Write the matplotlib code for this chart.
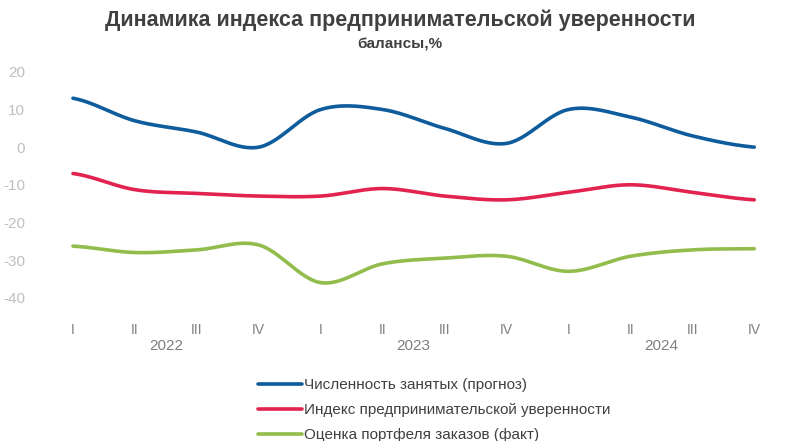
import numpy as np
import matplotlib.pyplot as plt
from matplotlib import font_manager

quarters = ['I', 'II', 'III', 'IV'] * 3
years = ['2022', '2023', '2024']
employment = [13, 7, 4, 0, 10, 10, 5, 1, 10, 8, 3, 0]
confidence = [-7, -11.3, -12.3, -13, -13, -11, -13, -14, -12, -10, -12, -14]
orders = [-26.3, -28, -27.3, -26, -36, -31, -29.5, -29, -33, -29, -27.3, -27]
names = ['Численность занятых (прогноз)',
         'Индекс предпринимательской уверенности',
         'Оценка портфеля заказов (факт)']
colors = ['#0f5c9c', '#e2234f', '#92bd4c']

fams = {f.name for f in font_manager.fontManager.ttflist}
font = 'Liberation Sans Narrow' if 'Liberation Sans Narrow' in fams else 'Liberation Sans'
plt.rcParams['font.family'] = [font, 'DejaVu Sans']
plt.rcParams['axes.unicode_minus'] = False


def smooth(y, n=30):
    # catmull-rom, like the smoothed lines in excel
    y = np.asarray(y, float)
    p = np.concatenate([[y[0]], y, [y[-1]]])
    xs, ys = [], []
    t = np.linspace(0, 1, n, endpoint=False)
    for i in range(len(y) - 1):
        p0, p1, p2, p3 = p[i], p[i + 1], p[i + 2], p[i + 3]
        c1 = p1 + (p2 - p0) / 6
        c2 = p2 - (p3 - p1) / 6
        b = ((1 - t) ** 3 * p1 + 3 * (1 - t) ** 2 * t * c1
             + 3 * (1 - t) * t ** 2 * c2 + t ** 3 * p2)
        xs.append(i + t)
        ys.append(b)
    xs.append([len(y) - 1])
    ys.append([y[-1]])
    return np.concatenate(xs), np.concatenate(ys)


fig = plt.figure(figsize=(8, 4.41), dpi=100)
ax = fig.add_axes([0.0525, 0.325, 0.929, 0.512])

for vals, name, c in zip([employment, confidence, orders], names, colors):
    xs, ys = smooth(vals)
    ax.plot(xs, ys, color=c, lw=2.6, label=name, solid_capstyle='round')

ax.set_xlim(-0.5, 11.5)
ax.set_ylim(-40, 20)
ax.set_yticks(range(-40, 21, 10))
ax.set_xticks(range(12))
ax.set_xticklabels(quarters)
ax.tick_params(length=0, colors='#bfbfbf', labelsize=11)
ax.tick_params(axis='x', colors='#7f7f7f', labelsize=10, pad=18)
ax.tick_params(axis='y', pad=12)
for s in ax.spines.values():
    s.set_visible(False)

for i, yr in enumerate(years):
    ax.text(4 * i + 1.5, -0.215, yr, transform=ax.get_xaxis_transform(),
            ha='center', va='center', color='#7f7f7f', fontsize=11)

fig.text(0.5, 0.953, 'Динамика индекса предпринимательской уверенности',
         ha='center', va='center', fontsize=15.5, fontweight='bold', color='#404040')
fig.text(0.5, 0.9, 'балансы,%', ha='center', va='center',
         fontsize=11, fontweight='bold', color='#404040')

fig.legend(loc='lower left', bbox_to_anchor=(0.305, -0.034), frameon=False,
           fontsize=11, handlelength=2.9, handletextpad=0.1, labelspacing=0.72,
           labelcolor='#404040')

fig.savefig('out.png', dpi=100)
